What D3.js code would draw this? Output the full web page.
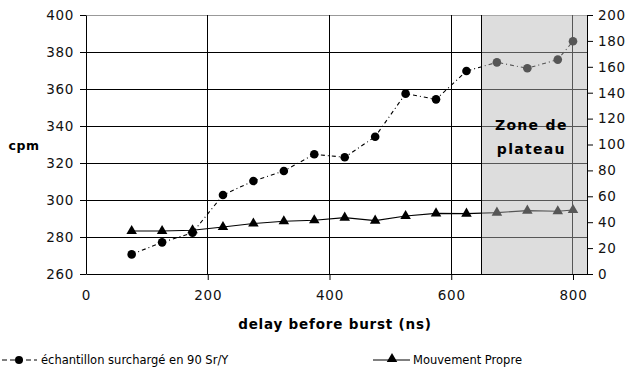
<!DOCTYPE html>
<html>
<head>
<meta charset="utf-8">
<script src="https://cdn.jsdelivr.net/npm/d3@7"></script>
<style>
  body { margin: 0; background: #fff; }
  svg text { font-family: "DejaVu Sans", sans-serif; }
</style>
</head>
<body>
<svg id="chart" width="626" height="374"></svg>
<script>
const delays = [75, 125, 175, 225, 275, 325, 375, 425, 475, 525, 575, 625, 675, 725, 775, 800];
const cpmSample = [270.6, 277.1, 282.3, 302.7, 310.3, 315.7, 324.7, 323.1, 334.2, 357.5, 354.4, 369.7, 374.4, 371.2, 375.9, 385.8];
const cpmBackground = [33.2, 33.2, 33.8, 36.3, 39.0, 40.7, 41.5, 43.5, 41.2, 44.8, 46.8, 46.6, 47.4, 48.9, 48.4, 49.4];
const xTicks = [0, 200, 400, 600, 800];
const leftTicks = [260, 280, 300, 320, 340, 360, 380, 400];
const rightTicks = [0, 20, 40, 60, 80, 100, 120, 140, 160, 180, 200];
const plateauStart = 650;
const seriesNames = ["échantillon surchargé en 90 Sr/Y", "Mouvement Propre"];

const svg = d3.select("#chart");

const x = d3.scaleLinear().domain([0, 823]).range([86, 587]);
const yL = d3.scaleLinear().domain([260, 400]).range([274, 15]);
const yR = d3.scaleLinear().domain([0, 200]).range([274, 15]);

// horizontal grid
svg.append("g")
  .selectAll("line")
  .data(leftTicks.slice(1))
  .join("line")
  .attr("x1", x(0)).attr("x2", x.range()[1])
  .attr("y1", (d) => yL(d)).attr("y2", (d) => yL(d))
  .attr("stroke", (d) => (d === 400 ? "#999" : "#000"))
  .attr("stroke-width", 1)
  .attr("shape-rendering", "crispEdges");

// vertical grid
svg.append("g")
  .selectAll("line")
  .data(xTicks.slice(1))
  .join("line")
  .attr("x1", (d) => x(d)).attr("x2", (d) => x(d))
  .attr("y1", yL(400)).attr("y2", yL(260))
  .attr("stroke", "#000")
  .attr("shape-rendering", "crispEdges");

// series: sample (left axis)
const pts1 = delays.map((d, i) => [x(d), yL(cpmSample[i])]);
svg.append("path")
  .attr("d", d3.line()(pts1))
  .attr("fill", "none")
  .attr("stroke", "#000")
  .attr("stroke-width", 1.1)
  .attr("stroke-dasharray", "4,3,1,3");
svg.append("g")
  .selectAll("circle")
  .data(pts1)
  .join("circle")
  .attr("cx", (d) => d[0]).attr("cy", (d) => d[1])
  .attr("r", 4.3)
  .attr("fill", "#000");

// series: background (right axis)
const pts2 = delays.map((d, i) => [x(d), yR(cpmBackground[i])]);
svg.append("path")
  .attr("d", d3.line()(pts2))
  .attr("fill", "none")
  .attr("stroke", "#000")
  .attr("stroke-width", 1.1);
const tri = d3.symbol().type(d3.symbolTriangle).size(48);
svg.append("g")
  .selectAll("path")
  .data(pts2)
  .join("path")
  .attr("transform", (d) => `translate(${d[0]},${d[1]})`)
  .attr("d", tri)
  .attr("fill", "#000");

// plateau zone overlay
svg.append("rect")
  .attr("x", x(plateauStart))
  .attr("y", yL(400))
  .attr("width", x.range()[1] - x(plateauStart))
  .attr("height", yL(260) - yL(400))
  .attr("fill", "#b6b6b6")
  .attr("fill-opacity", 0.47);
svg.append("line")
  .attr("x1", x(plateauStart)).attr("x2", x(plateauStart))
  .attr("y1", yL(400)).attr("y2", yL(260))
  .attr("stroke", "#000")
  .attr("shape-rendering", "crispEdges");

// axes
const axisFont = (g) => {
  g.select(".domain").attr("stroke", "#000");
  g.selectAll(".tick line").attr("stroke", "#000");
  g.selectAll("text")
    .attr("font-family", "DejaVu Sans, sans-serif")
    .attr("font-size", 13.5)
    .attr("letter-spacing", 0.7)
    .attr("fill", "#111");
};

svg.append("g")
  .attr("transform", `translate(${x(0)},0)`)
  .call(d3.axisLeft(yL).tickValues(leftTicks).tickSize(6).tickSizeOuter(0).tickPadding(6))
  .call(axisFont);

svg.append("g")
  .attr("transform", `translate(${x.range()[1]},0)`)
  .call(d3.axisRight(yR).tickValues(rightTicks).tickSize(6).tickSizeOuter(0).tickPadding(5))
  .call(axisFont);

svg.append("g")
  .attr("transform", `translate(0,${yL(260)})`)
  .call(d3.axisBottom(x).tickValues(xTicks).tickSize(6).tickSizeOuter(0).tickPadding(10))
  .call(axisFont)
  .call((g) => g.selectAll(".tick").filter((d) => d === 0).select("line").remove());

// titles
svg.append("text")
  .attr("x", 335).attr("y", 329)
  .attr("text-anchor", "middle")
  .attr("font-weight", "bold")
  .attr("font-size", 13.5)
  .attr("letter-spacing", 0.8)
  .text("delay before burst (ns)");

svg.append("text")
  .attr("x", 24).attr("y", 150)
  .attr("text-anchor", "middle")
  .attr("font-weight", "bold")
  .attr("font-size", 12.5)
  .attr("letter-spacing", 0.5)
  .text("cpm");

const zoneCx = (x(plateauStart) + x.range()[1]) / 2 - 3;
svg.append("text")
  .attr("x", zoneCx).attr("y", 130)
  .attr("text-anchor", "middle")
  .attr("font-weight", "bold")
  .attr("font-size", 14)
  .attr("letter-spacing", 1.3)
  .text("Zone de");
svg.append("text")
  .attr("x", zoneCx).attr("y", 154)
  .attr("text-anchor", "middle")
  .attr("font-weight", "bold")
  .attr("font-size", 14)
  .attr("letter-spacing", 1.3)
  .text("plateau");

// legend
const lg1 = svg.append("g").attr("transform", "translate(0,360)");
lg1.append("line")
  .attr("x1", 2).attr("x2", 37).attr("y1", 0).attr("y2", 0)
  .attr("stroke", "#000").attr("stroke-dasharray", "5,3");
lg1.append("circle").attr("cx", 19).attr("cy", 0).attr("r", 4).attr("fill", "#000");
lg1.append("text")
  .attr("x", 41).attr("y", 4)
  .attr("font-size", 11.5)
  .text(seriesNames[0]);

const lg2 = svg.append("g").attr("transform", "translate(373,360)");
lg2.append("line")
  .attr("x1", 0).attr("x2", 37).attr("y1", 0).attr("y2", 0)
  .attr("stroke", "#000");
lg2.append("path").attr("transform", "translate(19,-1)").attr("d", tri).attr("fill", "#000");
lg2.append("text")
  .attr("x", 40).attr("y", 4)
  .attr("font-size", 11.5)
  .text(seriesNames[1]);
</script>
</body>
</html>
